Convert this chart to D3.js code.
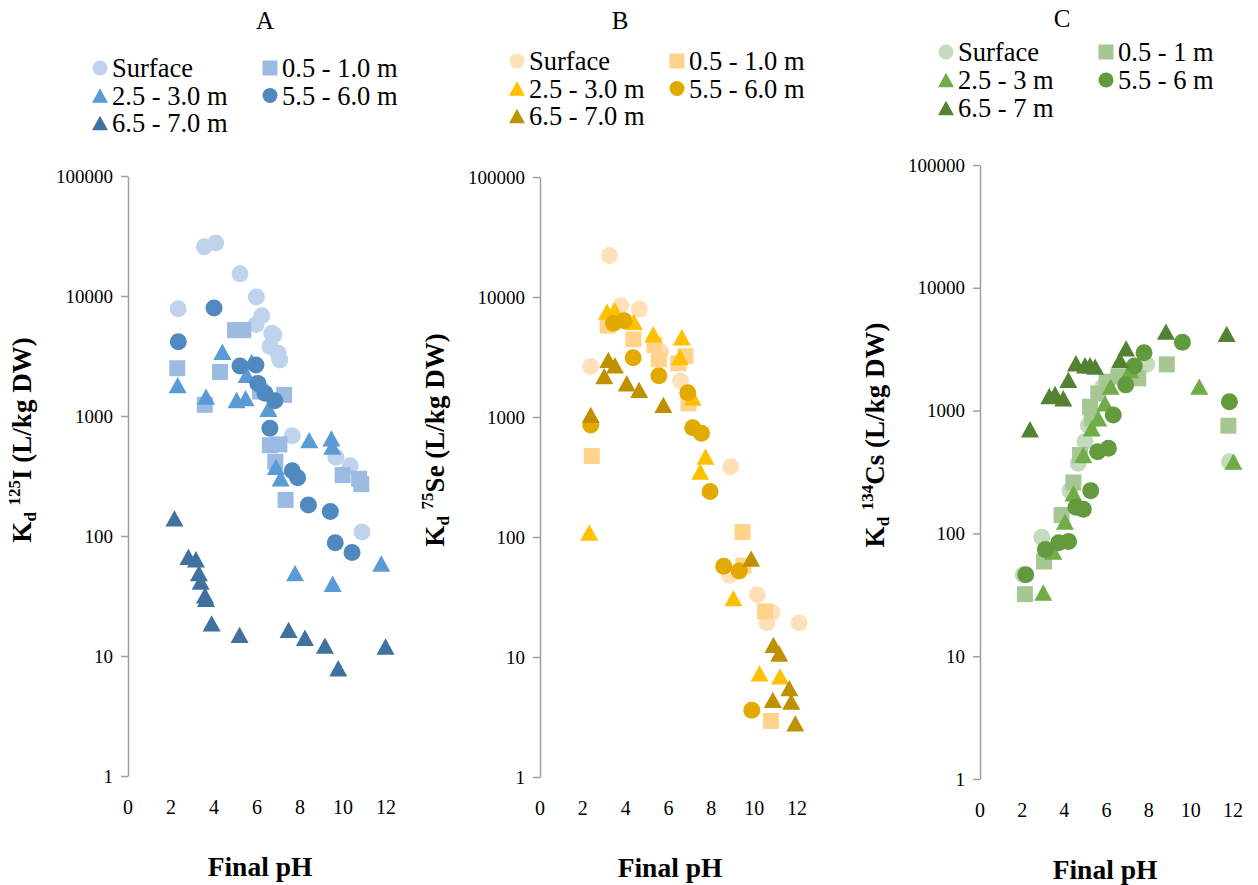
<!DOCTYPE html>
<html>
<head>
<meta charset="utf-8">
<script src="https://cdn.jsdelivr.net/npm/d3@7"></script>
<style>
  html, body { margin: 0; padding: 0; background: #fff; }
  svg { display: block; }
  svg text { font-family: "Liberation Serif", "Tinos", "Times New Roman", Times, "DejaVu Serif", serif !important; fill: #000; }
</style>
</head>
<body>
<svg id="chart" width="1258" height="885"></svg>
<script>
// ---- Data: [final pH, Kd (L/kg DW)] per depth series ----
const seriesNames = ["Surface", "0.5 - 1.0 m", "2.5 - 3.0 m", "5.5 - 6.0 m", "6.5 - 7.0 m"];
const seriesNamesCs = ["Surface", "0.5 - 1 m", "2.5 - 3 m", "5.5 - 6 m", "6.5 - 7 m"];
const seriesShapes = ["circle", "square", "triangle", "circle", "triangle"];

// Iodine-125
const iSurface = [[2.33,7840],[3.55,25700],[4.08,27700],[5.21,15300],[5.97,9800],[6.22,6850],[5.95,5800],[6.68,4900],[6.79,4750],[6.6,3800],[6.98,3330],[7.06,2930],[7.64,685],[9.67,453],[10.33,385],[10.88,108]];
const iM05 = [[4.98,5200],[5.36,5200],[2.29,2500],[4.28,2330],[3.57,1240],[7.26,1500],[6.14,1600],[6.6,570],[7.04,580],[6.85,415],[7.33,200],[9.98,322],[10.75,300],[10.85,270]];
const iM25 = [[4.39,3430],[2.31,1810],[3.63,1450],[5.05,1360],[5.47,1410],[5.75,2830],[5.52,2200],[6.53,1150],[8.43,630],[9.46,650],[9.5,555],[6.88,377],[7.1,303],[7.77,49],[9.52,40],[11.78,59]];
const iM55 = [[4.0,7940],[2.34,4150],[5.21,2610],[5.95,2660],[6.04,1870],[6.37,1550],[6.83,1340],[6.6,790],[7.64,350],[7.89,306],[8.39,181],[9.41,160],[9.64,88],[10.42,73]];
const iM65 = [[2.16,140],[2.81,67],[3.16,64],[3.3,49],[3.38,41.6],[3.58,32],[3.63,30],[3.89,18.7],[5.19,15],[7.47,16.5],[8.23,14.2],[9.16,12.2],[9.78,7.9],[11.98,12]];

// Selenium-75
const seSurface = [[3.24,22200],[3.77,8460],[4.64,7900],[2.37,2630],[5.64,3500],[6.56,2000],[8.9,385],[8.85,48],[10.15,33],[10.83,23.4],[10.6,19.3],[12.1,19.3]];
const seM05 = [[3.16,5770],[4.36,4440],[5.34,3980],[5.55,3030],[6.79,3230],[6.46,2800],[6.93,1300],[2.42,473],[9.46,110],[9.5,57.6],[10.51,24],[10.78,2.93]];
const seM25 = [[3.13,7560],[3.48,7790],[4.38,6220],[5.29,4890],[6.62,4620],[6.53,3160],[7.13,1450],[7.73,468],[7.48,350],[2.3,109],[9.03,31],[10.25,7.3],[11.21,6.9]];
const seM55 = [[3.43,6050],[3.93,6330],[4.35,3120],[5.55,2210],[6.9,1590],[2.37,857],[7.13,814],[7.54,731],[7.94,239],[8.58,57],[9.3,52],[9.89,3.6]];
const seM65 = [[3.19,2990],[3.5,2700],[3.0,2190],[4.05,1910],[4.63,1680],[5.76,1260],[2.37,1040],[9.86,66],[10.9,12.6],[11.17,10.7],[11.64,5.5],[10.87,4.4],[11.73,4.25],[11.92,2.8]];

// Cesium-134
const csSurface = [[7.91,2380],[5.82,1567],[5.14,760],[4.98,558],[4.66,372],[11.83,384],[4.27,223],[2.93,93],[2.05,46]];
const csM05 = [[8.86,2380],[11.78,753],[7.51,1830],[6.56,1890],[6.01,1720],[5.61,1380],[5.22,1075],[5.3,865],[4.74,435],[4.43,260],[3.87,141],[3.04,59],[2.13,32]];
const csM25 = [[10.4,1567],[12.02,384],[6.2,1567],[5.93,1145],[5.61,865],[5.3,718],[4.9,435],[7.12,2140],[4.43,212],[4.03,125],[3.48,71],[3.0,33]];
const csM55 = [[9.6,3600],[7.78,2960],[7.32,2310],[6.91,1620],[6.32,920],[11.83,1180],[6.09,493],[5.58,462],[5.25,223],[4.55,163],[4.9,157],[4.2,86],[3.73,84],[3.1,74],[2.17,46]];
const csM65 = [[2.37,705],[3.29,1315],[3.56,1365],[3.95,1260],[4.19,1780],[4.55,2430],[4.98,2340],[5.22,2340],[5.46,2280],[6.64,2580],[6.93,3210],[8.82,4400],[11.7,4210]];

// Axis ticks
const xTicks = [0, 2, 4, 6, 8, 10, 12];
const yTicks = [1, 10, 100, 1000, 10000, 100000];

// Palettes
const bluePalette = ["#bfd3ec", "#9bbbe2", "#5b9bd5", "#4f89c0", "#41719e"];
const goldPalette = ["#ffe0b9", "#ffd389", "#ffc000", "#e2aa00", "#bf9000"];
const greenPalette = ["#c5dbbf", "#a6c793", "#70ad47", "#629a3d", "#548235"];

const panels = [
  { title: "A", nuclide: "125", element: "I", names: seriesNames, colors: bluePalette,
    data: [iSurface, iM05, iM25, iM55, iM65],
    x0: 128, x1: 386, yTop: 176, yBot: 776, titleX: 265, titleY: 29,
    legendX: 100, legendY: 68, legendDX: 170, legendDY: 27.5, labelX: 22, labelY: 440, xTitleX: 260 },
  { title: "B", nuclide: "75", element: "Se", names: seriesNames, colors: goldPalette,
    data: [seSurface, seM05, seM25, seM55, seM65],
    x0: 540, x1: 797, yTop: 177, yBot: 777, titleX: 620, titleY: 29,
    legendX: 517, legendY: 61, legendDX: 160, legendDY: 27.5, labelX: 435, labelY: 440, xTitleX: 670 },
  { title: "C", nuclide: "134", element: "Cs", names: seriesNamesCs, colors: greenPalette,
    data: [csSurface, csM05, csM25, csM55, csM65],
    x0: 980, x1: 1233, yTop: 165, yBot: 779, titleX: 1062, titleY: 27,
    legendX: 946, legendY: 52, legendDX: 160, legendDY: 28, labelX: 875, labelY: 435, xTitleX: 1105 }
];

const svg = d3.select("#chart");

function markerPath(shape, s) {
  if (shape === "circle") {
    const r = s / 2;
    return `M${-r},0A${r},${r} 0 1,0 ${r},0A${r},${r} 0 1,0 ${-r},0Z`;
  }
  if (shape === "square") {
    const h = s / 2;
    return `M${-h},${-h}H${h}V${h}H${-h}Z`;
  }
  const w = s * 1.06 / 2, h = s * 0.96 / 2;
  return `M0,${-h}L${w},${h}L${-w},${h}Z`;
}

panels.forEach(p => {
  const g = svg.append("g");
  const x = d3.scaleLinear().domain([0, 12]).range([p.x0, p.x1]);
  const y = d3.scaleLog().domain([1, 100000]).range([p.yBot, p.yTop]);

  // Panel letter
  g.append("text").attr("x", p.titleX).attr("y", p.titleY)
    .attr("text-anchor", "middle").style("font-size", "25px").text(p.title);

  // Y axis
  const yAxis = d3.axisLeft(y).tickValues(yTicks).tickFormat(d3.format("d")).tickSizeOuter(0).tickSizeInner(7).tickPadding(8);
  const ya = g.append("g").attr("transform", `translate(${p.x0},0)`).call(yAxis);
  ya.attr("font-family", null).attr("font-size", null);
  ya.select(".domain").attr("stroke", "#a0a0a0").attr("stroke-width", 1.5);
  ya.selectAll(".tick line").attr("stroke", "#a0a0a0").attr("stroke-width", 1.5);
  ya.selectAll(".tick text").style("font-size", "19px").attr("fill", "#000");

  // X tick labels (no axis line)
  g.append("g").selectAll("text").data(xTicks).join("text")
    .attr("x", d => x(d)).attr("y", p.yBot + 38)
    .attr("text-anchor", "middle").style("font-size", "20px").text(d => d);

  // X title
  g.append("text").attr("x", p.xTitleX).attr("y", p.yBot + 100)
    .attr("text-anchor", "middle").style("font-size", "27.5px").style("font-weight", "bold").text("Final pH");

  // Y title with subscript and superscript
  const yt = g.append("text")
    .attr("transform", `translate(${p.labelX + 9},${p.labelY}) rotate(-90)`)
    .attr("text-anchor", "middle").style("font-size", "27px").style("font-weight", "bold");
  yt.append("tspan").text("K");
  yt.append("tspan").attr("dy", 5).style("font-size", "17px").text("d");
  yt.append("tspan").attr("dy", -5).text(" ");
  yt.append("tspan").attr("dy", -11).style("font-size", "17px").text(p.nuclide);
  yt.append("tspan").attr("dy", 11).text(p.element + " (L/kg DW)");

  // Points, drawn series by series
  p.data.forEach((pts, si) => {
    g.append("g").selectAll("path").data(pts).join("path")
      .attr("d", markerPath(seriesShapes[si], si === 1 ? 16 : 17))
      .attr("transform", d => `translate(${x(d[0])},${y(d[1])})`)
      .attr("fill", p.colors[si]);
  });

  // Legend: two columns
  p.names.forEach((name, si) => {
    const col = si % 2, row = Math.floor(si / 2);
    const lx = p.legendX + col * p.legendDX, ly = p.legendY + row * p.legendDY;
    g.append("path").attr("d", markerPath(seriesShapes[si], 15))
      .attr("transform", `translate(${lx},${ly})`).attr("fill", p.colors[si]);
    g.append("text").attr("x", lx + 12).attr("y", ly + 9)
      .style("font-size", "26.5px").text(name);
  });
});
</script>
</body>
</html>
